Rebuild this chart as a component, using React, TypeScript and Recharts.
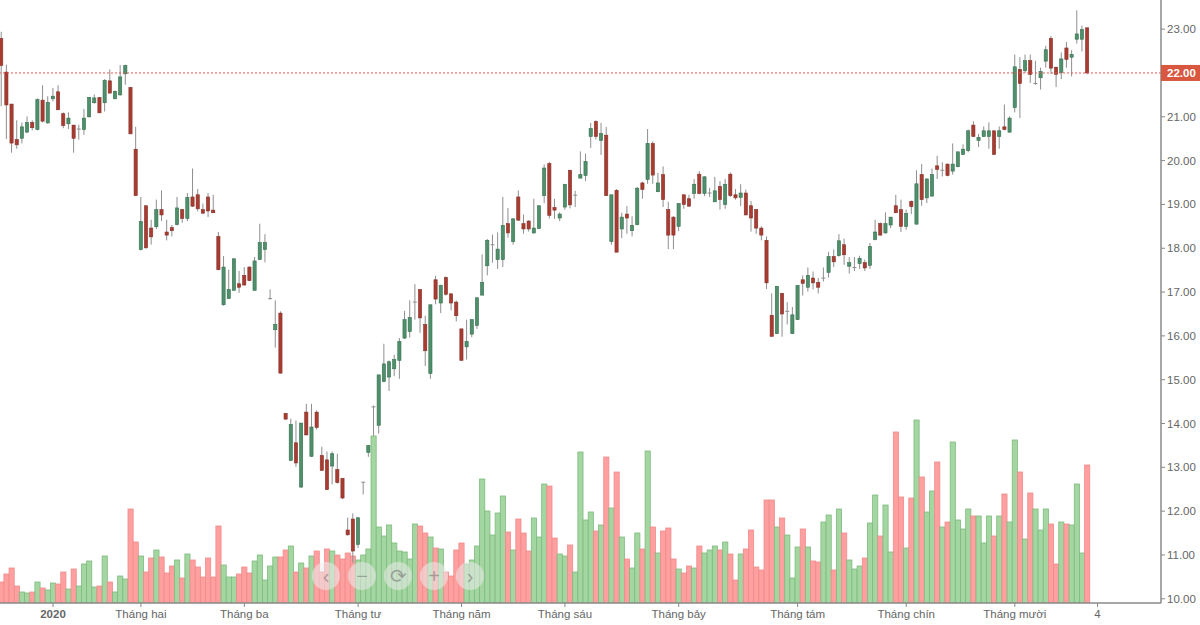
import React from 'react';
import { ComposedChart, Bar, XAxis, YAxis, ReferenceLine } from 'recharts';

const opens = [22.79,22.02,21.29,20.48,20.51,20.65,20.87,20.71,21.38,20.86,21.41,21.57,21.07,20.84,20.81,20.72,20.71,21.00,21.32,21.44,21.32,21.82,21.41,21.50,21.98,21.67,20.26,17.97,18.97,18.46,18.49,18.88,18.37,18.47,18.54,18.88,18.68,19.17,19.22,18.88,19.17,18.87,18.27,16.71,16.85,17.04,17.19,17.38,17.57,17.04,17.74,17.97,16.85,16.14,16.52,14.23,13.16,13.56,12.55,14.26,13.25,14.26,13.27,13.17,13.03,12.95,12.75,11.57,11.82,11.24,12.66,13.34,14.38,13.96,14.96,15.06,15.25,15.44,15.95,16.10,16.77,17.06,16.26,15.14,17.28,16.75,17.33,16.96,16.77,16.16,15.75,16.04,16.24,16.93,17.60,18.08,17.74,17.74,18.56,18.15,19.17,18.56,18.62,18.35,18.45,19.20,19.93,18.93,18.69,18.94,19.78,19.21,19.60,19.66,20.55,20.89,20.46,20.58,18.15,19.32,18.44,18.78,18.40,18.54,19.49,19.57,20.39,19.29,19.68,18.88,18.71,18.50,19.22,19.13,19.25,19.69,19.25,19.26,19.06,19.41,19.00,19.69,19.22,19.16,19.26,18.97,18.88,18.46,18.18,16.47,16.05,16.97,16.56,16.05,16.37,17.28,17.11,17.32,17.22,17.32,17.45,17.81,17.83,18.08,17.59,17.56,17.65,17.67,17.61,18.20,18.56,18.35,18.53,18.97,18.88,18.50,19.07,18.55,19.68,19.15,19.19,19.88,19.78,19.92,19.76,19.86,20.14,20.23,20.81,20.46,20.55,20.55,20.68,20.55,20.77,20.65,21.21,22.08,22.05,22.28,21.76,21.89,22.27,22.79,22.13,22.01,22.57,22.36,22.77,22.77,23.03];
const highs = [22.94,22.19,21.29,20.92,20.87,21.01,20.92,21.42,21.72,21.47,21.66,21.72,21.10,21.10,20.81,20.82,21.18,21.45,21.51,21.45,21.86,22.08,21.60,22.18,22.19,21.68,20.77,19.17,18.97,18.65,19.11,19.32,18.65,18.53,19.17,18.90,19.26,19.82,19.35,19.02,19.26,19.22,18.37,17.82,17.51,17.76,17.48,17.57,17.59,17.80,18.56,18.32,17.06,16.81,16.56,14.24,14.11,14.07,14.01,14.45,14.45,14.30,13.47,13.36,13.36,13.31,12.75,11.85,11.95,11.85,12.66,13.50,14.41,15.11,15.82,15.44,15.57,15.95,16.57,16.81,17.18,17.06,16.46,16.71,17.37,17.17,17.36,16.96,16.81,16.16,16.37,16.37,16.87,17.86,18.21,18.31,18.36,19.17,18.92,18.69,19.32,18.77,18.64,19.13,18.97,19.91,19.97,19.13,18.82,19.46,19.78,19.31,20.21,20.16,20.86,20.92,20.86,20.77,19.22,19.35,18.81,18.96,18.73,19.40,19.52,20.72,20.44,19.72,19.87,19.06,18.73,19.03,19.22,19.22,19.58,19.76,19.64,19.38,19.63,19.53,19.58,19.73,19.35,19.46,19.34,19.08,18.90,18.50,18.27,16.97,17.13,16.98,16.77,16.66,17.16,17.38,17.56,17.47,17.32,17.56,17.92,17.97,18.32,18.22,17.80,17.80,17.83,17.74,18.12,18.65,18.59,18.82,18.71,19.22,19.11,18.88,19.09,19.78,19.92,19.60,19.82,20.11,19.96,19.93,20.39,20.20,20.37,20.71,20.90,20.61,20.78,20.87,20.68,20.78,21.28,21.01,22.42,22.36,22.42,22.42,22.28,22.12,22.62,22.84,22.15,22.47,22.71,22.52,23.43,23.08,23.03];
const lows = [21.24,20.49,20.18,20.27,20.39,20.63,20.69,20.69,20.87,20.84,21.35,21.16,20.74,20.72,20.18,20.48,20.59,20.98,21.30,21.09,21.12,21.54,21.41,21.48,21.73,20.61,19.20,17.95,17.99,18.08,18.44,18.62,18.18,18.27,18.52,18.58,18.62,18.94,18.84,18.79,18.71,18.81,17.50,16.69,16.85,17.04,16.98,17.15,17.26,17.04,17.74,17.68,16.83,15.73,15.14,14.09,13.14,13.01,12.53,13.73,13.24,13.86,12.93,12.48,12.61,12.63,12.28,11.44,10.82,11.16,12.38,13.24,13.72,13.77,14.94,14.74,15.08,15.02,15.93,15.96,16.37,16.07,15.31,15.02,16.72,16.52,16.92,16.58,16.33,15.44,15.46,15.97,16.16,16.93,17.38,17.67,17.53,17.57,18.24,18.08,18.63,18.33,18.38,18.33,18.44,19.03,18.68,18.67,18.62,18.88,18.91,18.94,19.60,19.53,20.29,20.48,20.13,19.20,18.08,17.91,18.23,18.33,18.27,18.52,19.13,19.47,19.47,19.28,18.94,17.98,17.98,18.39,18.90,18.95,19.13,19.23,19.19,19.17,19.05,18.88,18.90,19.17,19.11,18.96,18.75,18.38,18.33,18.18,17.07,15.99,16.04,15.98,16.26,16.04,16.36,16.92,17.01,17.06,16.97,17.24,17.33,17.57,17.81,17.62,17.42,17.48,17.53,17.48,17.53,18.18,18.29,18.33,18.46,18.80,18.37,18.42,18.78,18.54,18.97,19.03,19.18,19.58,19.64,19.64,19.68,19.85,20.13,20.19,20.54,20.31,20.54,20.27,20.13,20.27,20.69,20.63,21.10,20.97,22.00,21.77,21.73,21.62,22.12,21.98,21.68,21.86,22.12,21.92,22.67,22.49,21.97];
const closes = [22.17,21.27,20.40,20.36,20.77,20.87,20.75,21.39,20.90,21.33,21.47,21.16,20.80,20.97,20.51,20.72,20.97,21.44,21.43,21.09,21.83,21.54,21.58,21.91,22.17,20.61,19.20,18.61,18.01,18.26,18.88,18.76,18.30,18.40,18.92,18.68,19.16,18.96,18.90,18.80,18.85,18.81,17.51,17.57,17.06,17.76,17.11,17.16,17.26,17.71,18.13,18.13,16.85,16.26,15.15,14.10,13.98,13.10,14.01,13.74,13.92,13.91,12.93,12.49,13.31,12.65,12.30,11.46,11.09,11.85,12.66,13.50,14.38,15.11,15.36,15.41,15.46,15.87,16.37,16.42,16.77,16.41,15.66,16.71,16.84,17.15,16.95,16.75,16.46,15.44,15.87,16.37,16.87,17.22,18.18,18.08,17.98,18.52,18.35,18.67,18.64,18.44,18.44,18.46,18.97,19.83,18.75,18.87,18.78,19.46,18.99,19.21,19.68,19.98,20.73,20.55,20.62,19.20,19.22,17.91,18.71,18.69,18.52,19.37,19.34,20.39,19.67,19.49,19.11,18.30,18.30,19.02,19.00,18.96,19.46,19.25,19.63,19.26,19.31,19.11,19.46,19.20,19.15,19.26,18.76,18.69,18.46,18.30,17.21,15.99,17.13,16.50,16.56,16.48,17.15,17.20,17.38,17.21,17.11,17.32,17.81,17.69,18.17,17.85,17.67,17.56,17.77,17.55,18.04,18.37,18.30,18.56,18.71,18.81,18.50,18.79,18.95,19.47,19.11,19.58,19.68,19.80,19.78,19.66,19.92,20.20,20.26,20.68,20.55,20.53,20.68,20.68,20.14,20.68,20.71,20.97,22.14,21.76,22.28,21.97,21.76,22.03,22.53,22.11,21.97,22.32,22.31,22.42,22.89,22.99,22.00];
const volumes = [21,29,35,17,11,10,11,21,15,13,20,19,31,14,34,17,39,42,16,17,47,21,11,27,24,94,61,47,31,45,53,46,30,37,43,25,49,43,36,26,45,26,77,38,26,26,29,36,30,42,48,23,37,46,46,53,57,31,40,35,47,52,31,54,52,48,44,50,47,43,48,54,167,76,67,78,60,52,51,44,79,77,70,66,55,54,31,27,53,60,39,43,57,124,92,68,90,107,71,53,84,70,52,85,66,119,117,65,49,47,58,31,151,83,91,72,78,146,95,131,66,44,35,70,54,152,76,50,72,75,44,34,30,37,35,57,50,53,57,53,61,49,23,49,54,73,36,33,103,103,76,85,68,25,56,74,56,42,41,81,88,33,94,70,43,34,37,45,80,108,67,98,51,171,106,55,105,183,126,91,112,141,76,81,161,83,74,94,87,87,60,87,67,87,109,81,163,131,64,110,94,73,94,79,39,81,79,78,119,50,138];

const priceTicks = [10,11,12,13,14,15,16,17,18,19,20,21,22,23];
const monthTicks = [10,27,47,69,89,109,131,154,175,196,212];
const monthLabels = ['2020','Tháng hai','Tháng ba','Tháng tư','Tháng năm','Tháng sáu','Tháng bảy','Tháng tám','Tháng chín','Tháng mười','4'];
const lastPrice = 22;

const rows = opens.map((open, i) => ({
  i,
  open,
  high: highs[i],
  low: lows[i],
  close: closes[i],
  volume: volumes[i],
}));

const FONT = '"Liberation Sans", Arial, sans-serif';

const Candle = (props: any) => {
  const { x, y, width, height, payload } = props;
  const { open, close, high, low } = payload;
  const pxPerUnit = height / (high - low);
  const up = close >= open;
  const bodyTop = y + (high - Math.max(open, close)) * pxPerUnit;
  const bodyH = Math.max(Math.abs(open - close) * pxPerUnit, 0.8);
  const cx = x + width / 2;
  const flat = open === close;
  return (
    <g>
      <line x1={cx} x2={cx} y1={y} y2={y + height} stroke="#8e8e8e" strokeWidth={1} />
      {flat ? (
        <line x1={cx - 2} x2={cx + 2} y1={bodyTop} y2={bodyTop} stroke="#8e8e8e" strokeWidth={1} />
      ) : (
        <rect
          x={cx - 1.6}
          y={bodyTop}
          width={3.2}
          height={bodyH}
          fill={up ? '#4f8f6b' : '#a83c30'}
          stroke={up ? '#35704f' : '#86302a'}
          strokeWidth={0.6}
        />
      )}
    </g>
  );
};

const VolumeBar = (props: any) => {
  const { x, y, width, height, payload } = props;
  const up = payload.close >= payload.open;
  return (
    <rect
      x={x}
      y={y}
      width={width}
      height={height}
      fill={up ? '#a4d6a2' : '#ff9f9f'}
      stroke={up ? '#7dbb7d' : '#ef8b8b'}
      strokeWidth={0.8}
    />
  );
};

const PriceTick = (props: any) => {
  const { x, y, payload } = props;
  const isLast = payload.value === lastPrice;
  return (
    <g>
      {isLast && <rect x={x - 6} y={y - 8} width={40} height={16} fill="#d9573f" />}
      <text
        x={x}
        y={y + 4}
        fontSize={11.5}
        fontFamily={FONT}
        fontWeight={isLast ? 700 : 400}
        fill={isLast ? '#ffffff' : '#666666'}
      >
        {payload.value.toFixed(2)}
      </text>
    </g>
  );
};

const MonthTick = (props: any) => {
  const { x, y, payload } = props;
  const label = monthLabels[monthTicks.indexOf(payload.value)];
  return (
    <text
      x={x}
      y={y + 9}
      textAnchor="middle"
      fontSize={11.5}
      fontFamily={FONT}
      fontWeight={label === '2020' ? 700 : 400}
      fill="#666666"
    >
      {label}
    </text>
  );
};

const zoomButtons = ['‹', '−', '⟳', '+', '›'];

export default function App() {
  return (
    <div style={{ position: 'absolute', left: 0, top: 0, width: 1200, height: 625, background: '#fff' }}>
      <ComposedChart
        width={1200}
        height={625}
        data={rows}
        margin={{ top: 0, right: 0, bottom: 0, left: 0 }}
        barGap={0}
      >
        <XAxis
          xAxisId="volume"
          dataKey="i"
          type="number"
          domain={[-0.25, 224.27]}
          hide
          allowDataOverflow
        />
        <XAxis
          xAxisId="price"
          dataKey="i"
          type="number"
          domain={[-0.25, 224.27]}
          ticks={monthTicks}
          interval={0}
          tick={<MonthTick />}
          height={22}
          tickSize={4}
          tickLine={{ stroke: '#888888' }}
          axisLine={{ stroke: '#8a8a8a', strokeWidth: 1.5 }}
          allowDataOverflow
        />
        <YAxis yAxisId="volume" domain={[0, 603]} hide allowDataOverflow />
        <YAxis
          yAxisId="price"
          orientation="right"
          domain={[9.904, 23.665]}
          ticks={priceTicks}
          interval={0}
          width={39}
          tick={<PriceTick />}
          tickSize={4}
          tickLine={{ stroke: '#888888' }}
          axisLine={{ stroke: '#8a8a8a', strokeWidth: 1.5 }}
          allowDataOverflow
        />
        <Bar
          xAxisId="volume"
          yAxisId="volume"
          dataKey="volume"
          barSize={5.17}
          shape={<VolumeBar />}
          isAnimationActive={false}
        />
        <ReferenceLine
          xAxisId="price"
          yAxisId="price"
          y={lastPrice}
          stroke="#e2574f"
          strokeDasharray="2 2"
        />
        <Bar
          xAxisId="price"
          yAxisId="price"
          dataKey={(d: any) => [d.low, d.high]}
          barSize={5}
          shape={<Candle />}
          isAnimationActive={false}
        />
      </ComposedChart>
      {zoomButtons.map((glyph, n) => (
        <div
          key={n}
          style={{
            position: 'absolute',
            left: 312 + n * 36,
            top: 562,
            width: 28,
            height: 28,
            borderRadius: '50%',
            background: 'rgba(235,235,235,0.55)',
            color: 'rgba(110,110,110,0.55)',
            fontFamily: FONT,
            fontSize: 20,
            lineHeight: '28px',
            textAlign: 'center',
          }}
        >
          {glyph}
        </div>
      ))}
    </div>
  );
}
